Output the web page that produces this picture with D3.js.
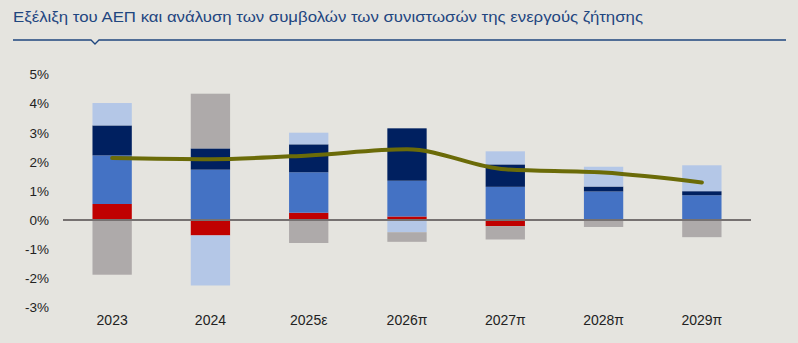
<!DOCTYPE html>
<html>
<head>
<meta charset="utf-8">
<script src="https://cdn.jsdelivr.net/npm/d3@7"></script>
<style>
  body { margin: 0; background: #e5e4df; }
  svg { display: block; }
</style>
</head>
<body>
<svg id="chart" width="798" height="343"></svg>
<script>
// categories and series
const years = ["2023", "2024", "2025ε", "2026π", "2027π", "2028π", "2029π"];
const seriesNames = ["s1", "s2", "s3", "s4", "s5"];
const s1 = [0.55, -0.53, 0.25, 0.12, -0.21, 0, 0];        // red
const s2 = [1.67, 1.73, 1.39, 1.23, 1.14, 0.98, 0.85];     // medium blue
const s3 = [1.03, 0.73, 0.96, 1.80, 0.77, 0.17, 0.14];     // navy
const s4 = [0.77, -1.72, 0.40, -0.42, 0.45, 0.68, 0.89];   // light blue
const s5 = [-1.88, 1.88, -0.79, -0.33, -0.46, -0.24, -0.59]; // grey
const gdp = [2.13, 2.09, 2.22, 2.43, 1.74, 1.63, 1.29];
const ticks = [-3, -2, -1, 0, 1, 2, 3, 4, 5];
const colors = ["#c00000", "#4472c4", "#002060", "#b4c7e7", "#aeaaaa"];

const svg = d3.select("#chart");
const W = 798, H = 343;

svg.append("rect").attr("width", W).attr("height", H).attr("fill", "#e5e4df");

// title
svg.append("text")
	.attr("x", 13)
	.attr("y", 22)
	.attr("textLength", 630)
	.attr("lengthAdjust", "spacingAndGlyphs")
	.style("font-family", "'Liberation Sans Narrow', 'Liberation Sans', Arial, sans-serif")
	.style("font-size", "15.5px")
	.style("fill", "#1f467f")
	.text("Εξέλιξη του ΑΕΠ και ανάλυση των συμβολών των συνιστωσών της ενεργούς ζήτησης");

// rule under the title with the small notch
svg.append("path")
	.attr("d", "M13,40 H91 L95,44 L99,40 H786")
	.attr("fill", "none")
	.attr("stroke", "#1f467f")
	.attr("stroke-width", 1.3);

const x = d3.scaleBand()
	.domain(years)
	.range([63, 751])
	.paddingInner(0.6)
	.paddingOuter(0.3);

const y = d3.scaleLinear()
	.domain([-3, 5])
	.range([307.3, 74.5]);

const table = years.map((yr, i) => ({
	year: yr, s1: s1[i], s2: s2[i], s3: s3[i], s4: s4[i], s5: s5[i]
}));

const stack = d3.stack()
	.keys(seriesNames)
	.offset(d3.stackOffsetDiverging);

const layers = stack(table);

svg.append("g")
	.selectAll("g")
	.data(layers)
	.enter()
	.append("g")
	.attr("fill", (d, i) => colors[i])
	.selectAll("rect")
	.data(d => d)
	.enter()
	.append("rect")
	.attr("x", d => x(d.data.year))
	.attr("width", x.bandwidth())
	.attr("y", d => y(Math.max(d[0], d[1])))
	.attr("height", d => Math.abs(y(d[0]) - y(d[1])));

// zero line
svg.append("line")
	.attr("x1", 63).attr("x2", 751)
	.attr("y1", y(0)).attr("y2", y(0))
	.attr("stroke", "#767171")
	.attr("stroke-width", 2);

// GDP line
const line = d3.line()
	.x((d, i) => x(years[i]) + x.bandwidth() / 2)
	.y(d => y(d))
	.curve(d3.curveMonotoneX);

svg.append("path")
	.datum(gdp)
	.attr("d", line)
	.attr("fill", "none")
	.attr("stroke", "#6b6b08")
	.attr("stroke-width", 4)
	.attr("stroke-linecap", "round");

// y axis labels
const yAxis = d3.axisLeft(y)
	.tickValues(ticks)
	.tickSize(0)
	.tickPadding(0)
	.tickFormat(d => d + "%");

const ga = svg.append("g")
	.attr("transform", "translate(49,0)")
	.call(yAxis);
ga.select(".domain").remove();
ga.selectAll("text")
	.style("font-family", "'Liberation Sans', Arial, sans-serif")
	.style("font-size", "13.5px")
	.style("fill", "#222");

// x axis labels
const xAxis = d3.axisBottom(x).tickSize(0).tickPadding(0);
const gx = svg.append("g")
	.attr("transform", "translate(0,315)")
	.call(xAxis);
gx.select(".domain").remove();
gx.selectAll("text")
	.style("font-family", "'Liberation Sans', Arial, sans-serif")
	.style("font-size", "14px")
	.style("fill", "#222");
</script>
</body>
</html>
